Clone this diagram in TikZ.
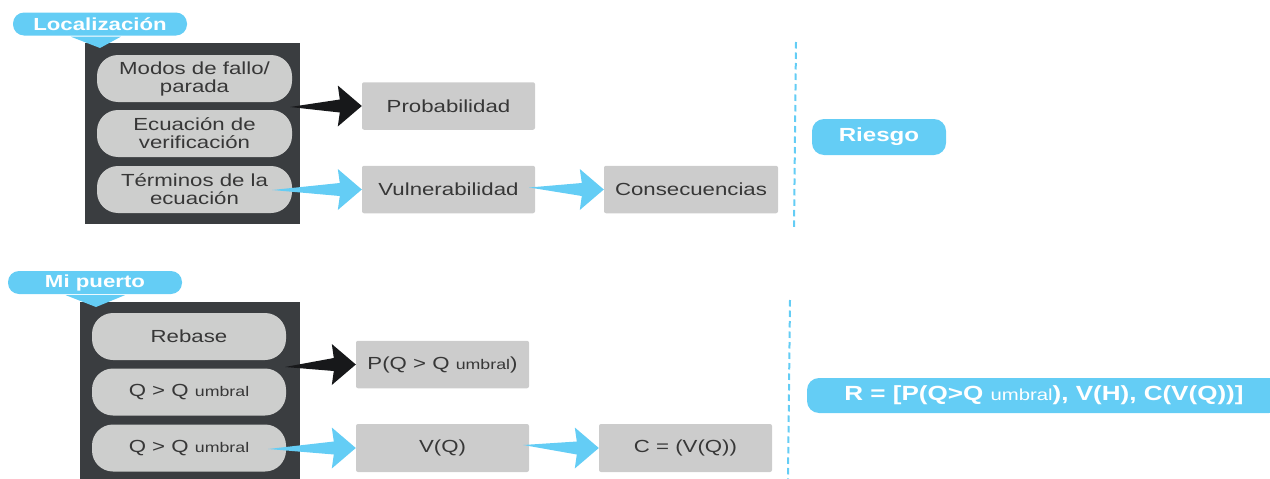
\documentclass[tikz,border=0pt]{standalone}
\usepackage{fontspec}
\setmainfont{Liberation Sans}[FakeStretch=1.27]
\usetikzlibrary{calc}

\definecolor{sky}{RGB}{100,205,245}
\definecolor{panelgray}{RGB}{58,61,64}
\definecolor{pillgray}{RGB}{205,206,205}
\definecolor{boxgray}{RGB}{204,204,204}
\definecolor{arrowblack}{RGB}{23,24,26}
\definecolor{ink}{RGB}{55,55,55}

% tapered arrow: sharp tail at #1, broad head whose tip lies on #2
\newcommand\wedgearrow[3]{%
  \fill[#3] let \p1=(#1), \p2=(#2) in
    (\p1) -- (\x2-22pt,\y2+6.5pt) -- (\x2-24pt,\y2+20.5pt) -- (\p2)
    -- (\x2-24pt,\y2-20.5pt) -- (\x2-22pt,\y2-6.5pt) -- cycle;}

\newcommand\umb{{\fontsize{14}{14}\selectfont umbral}}

\begin{document}
\begin{tikzpicture}[x=1pt,y=-1pt,
  txt/.style={font=\fontsize{17.5}{18}\selectfont, text=ink, align=center, inner sep=0pt},
  panel/.style={fill=panelgray, inner sep=0pt},
  pill/.style={txt, fill=pillgray, rounded corners=21pt, minimum width=195pt, minimum height=47pt},
  box/.style={txt, fill=boxgray, rounded corners=2pt, minimum width=173pt, minimum height=47.5pt},
  tag/.style={fill=sky, text=white, inner sep=0pt, font=\bfseries\fontsize{17.5}{18}\selectfont,
              rounded corners=11pt, minimum width=174pt, minimum height=23pt},
  bigtag/.style={fill=sky, text=white, inner sep=0pt, font=\bfseries\fontsize{19}{20}\selectfont,
              rounded corners=12pt, minimum height=36pt},
  divider/.style={sky, line width=2pt, dash pattern=on 6.5pt off 4pt}
]
\useasboundingbox (0,0) rectangle (1270,479);

% ---------------- upper block ----------------
\node[panel, minimum width=215pt, minimum height=181pt] (panA) at (192.5,133.5) {};
\node[pill] (mod) at (194.5,78.5) {Modos de fallo/\\parada};
\node[pill] (ecu) at (194.5,133.5) {Ecuación de\\verificación};
\node[pill] (ter) at (194.5,189.5) {Términos de la\\ecuación};

\node[tag] (loc) at (100,24) {Localización};
\fill[sky] ($(loc.south west)+(58,1)$) -- (100,48) -- ($(loc.south west)+(108,1)$) -- cycle;

\node[box] (prob) at (448.5,106) {Probabilidad};
\node[box] (vul) at (448.5,189.5) {Vulnerabilidad};
\node[box, minimum width=174pt] (cons) at (691,189.5) {Consecuencias};

\coordinate (tA) at (290,107);
\wedgearrow{tA}{prob.west}{arrowblack}
\wedgearrow{$(ter.east)+(-20,0.5)$}{vul.west}{sky}
\wedgearrow{$(vul.east)+(-6,-2)$}{cons.west}{sky}

\draw[divider] (796,42) -- (794,230);
\node[bigtag, minimum width=134pt] (ries) at (879,137) {Riesgo};

% ---------------- lower block ----------------
\node[panel, minimum width=220pt, minimum height=178pt] (panB) at (190,391) {};
\node[pill, minimum width=194pt] (reb) at (189,336.5) {Rebase};
\node[pill, minimum width=194pt] (qa) at (189,392) {Q > Q \umb};
\node[pill, minimum width=194pt] (qb) at (189,448) {Q > Q \umb};

\node[tag] (mip) at (95,282.5) {Mi puerto};
\fill[sky] ($(mip.south west)+(58,1)$) -- (96,307) -- ($(mip.south west)+(117,1)$) -- cycle;

\node[box] (pq) at (442.5,364.5) {P(Q > Q \umb)};
\node[box, minimum width=173pt, minimum height=48pt] (vq) at (442.5,448) {V(Q)};
\node[box, minimum width=173pt, minimum height=48pt] (cq) at (685.5,448) {C = (V(Q))};

\coordinate (tB) at (285,367);
\wedgearrow{tB}{pq.west}{arrowblack}
\wedgearrow{$(qb.east)+(-18,1)$}{vq.west}{sky}
\wedgearrow{$(vq.east)+(-6,-3)$}{cq.west}{sky}

\draw[divider] (790,300) -- (788,479);
\node[bigtag, minimum width=474pt, minimum height=35pt, font=\bfseries\fontsize{20.5}{21}\selectfont]
  (rform) at (1044,395.5)
  {R = [P(Q>Q {\mdseries\fontsize{16}{16}\selectfont umbral}), V(H), C(V(Q))]};
\end{tikzpicture}
\end{document}
